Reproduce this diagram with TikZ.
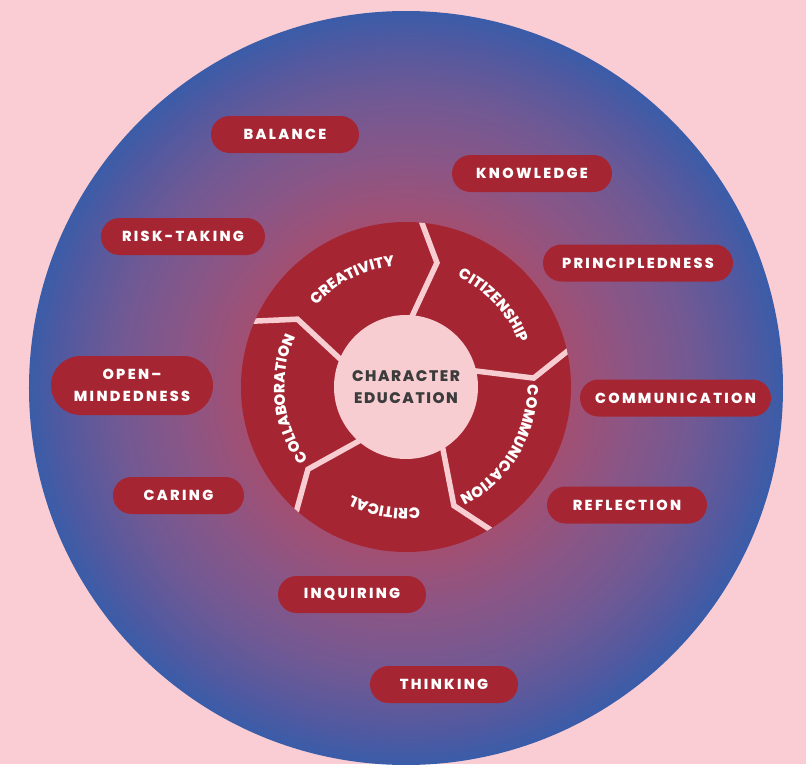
\documentclass[tikz,border=0pt]{standalone}
\usepackage{fontspec}
\setmainfont{Poppins}
\newfontfamily\pillfont{Poppins}[LetterSpace=16, BoldFont={Poppins ExtraBold}]
\newfontfamily\centerfont{Poppins}[LetterSpace=10, BoldFont={Poppins ExtraBold}]
\usetikzlibrary{decorations.text}
\definecolor{bgpink}{HTML}{F9CDD3}
\definecolor{wheelred}{HTML}{A52632}
\definecolor{innerpink}{HTML}{F8CDD2}
\definecolor{darktext}{HTML}{3C3C3C}
\definecolor{g0}{HTML}{B04868}
\definecolor{g1}{HTML}{A24F72}
\definecolor{g2}{HTML}{8B5686}
\definecolor{g3}{HTML}{725993}
\definecolor{g4}{HTML}{5259A0}
\definecolor{g5}{HTML}{3B5CA8}
\tikzset{
  pill/.style={rectangle, rounded corners=18.5pt, fill=wheelred, text=white,
    minimum height=37pt, inner sep=0pt, align=center,
    font=\pillfont\bfseries\fontsize{14.5}{22}\selectfont},
  divider/.style={innerpink, line width=5.5pt, line join=miter},
  wheellabel/.style={decorate, decoration={text along path, text align=center,
    text color=white, text format delimiters={[}{]}, text={[\pillfont\bfseries\fontsize{15}{17}\selectfont]#1}}}
}
\begin{document}
\begin{tikzpicture}[x=1pt,y=1pt]
\path[use as bounding box, fill=bgpink] (-406,-377) rectangle (400,387);
% radial glow as concentric discs
\foreach \ra/\rb/\ca/\cb in {345/377/g4/g5, 288/345/g3/g4, 225/288/g2/g3, 165/225/g1/g2, 0/165/g0/g1}{
  \pgfmathtruncatemacro\n{(\rb-\ra)/2}
  \foreach \k in {0,...,\n}{
    \pgfmathsetmacro\r{\rb-2*\k}
    \pgfmathtruncatemacro\p{(\r-\ra)/(\rb-\ra)*100}
    \fill[\cb!\p!\ca] (0,-1) circle[radius=\r];
  }
}
% wheel
\fill[wheelred] (0,0) circle[radius=165];
\begin{scope}
\clip (0,0) circle[radius=165];
\foreach \t in {89,17,-55,-127,161}
  \draw[divider] (\t:60) -- (\t-13:128) -- (\t-2.5:178);
\end{scope}
\node[circle, fill=innerpink, minimum size=144pt, inner sep=0pt, align=center,
  text=darktext, font=\centerfont\bfseries\fontsize{15.3}{22.7}\selectfont] (center) at (0,0) {CHARACTER\\EDUCATION};
% wheel labels (clockwise arcs, baseline radius 121.5)
\path[wheellabel=CREATIVITY] (176.5:121.5) arc[start angle=176.5, end angle=56.5, radius=121.5];
\path[wheellabel=CITIZENSHIP] (103:121.5) arc[start angle=103, end angle=-17, radius=121.5];
\path[wheellabel=COMMUNICATION] (28.5:121.5) arc[start angle=28.5, end angle=-91.5, radius=121.5];
\path[wheellabel=CRITICAL] (-40:121.5) arc[start angle=-40, end angle=-160, radius=121.5];
\path[wheellabel=COLLABORATION] (246:121.5) arc[start angle=246, end angle=126, radius=121.5];
% pills
\node[pill, minimum width=148pt] (balance) at (-121,252.5) {BALANCE};
\node[pill, minimum width=160pt] (knowledge) at (126,213.5) {KNOWLEDGE};
\node[pill, minimum width=164pt] (risk) at (-223,150.5) {RISK-TAKING};
\node[pill, minimum width=190pt] (principled) at (232,124) {PRINCIPLEDNESS};
\node[pill, minimum width=162pt, minimum height=59pt, rounded corners=29.5pt] (open) at (-274,1.5) {OPEN–\\MINDEDNESS};
\node[pill, minimum width=191pt] (communication) at (269.5,-11) {COMMUNICATION};
\node[pill, minimum width=131pt] (caring) at (-227.5,-108.5) {CARING};
\node[pill, minimum width=160pt] (reflection) at (221,-118) {REFLECTION};
\node[pill, minimum width=148pt] (inquiring) at (-54,-207.5) {INQUIRING};
\node[pill, minimum width=148pt] (thinking) at (38,-297.5) {THINKING};
\end{tikzpicture}
\end{document}
